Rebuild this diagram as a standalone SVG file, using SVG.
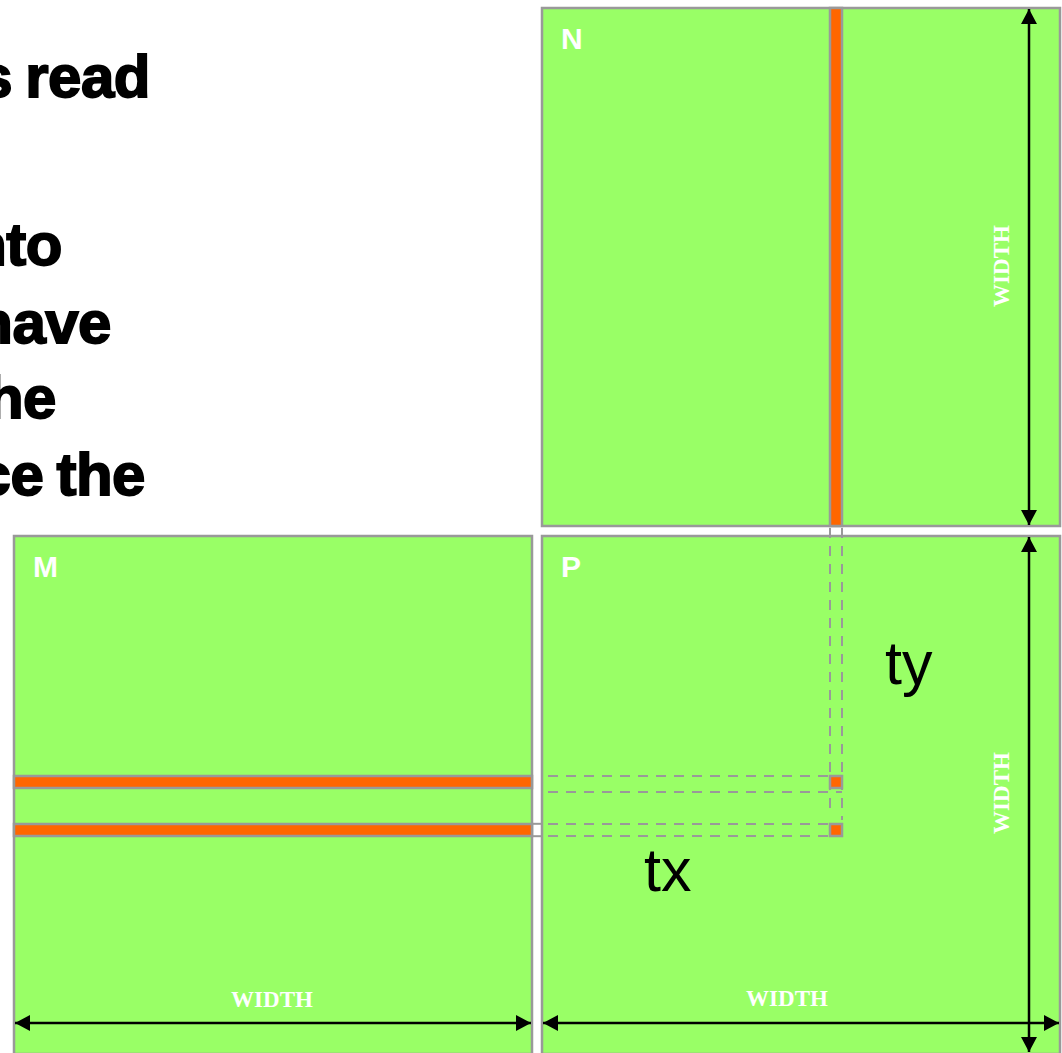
<svg xmlns="http://www.w3.org/2000/svg" width="1062" height="1053" viewBox="0 0 1062 1053">
  <defs>
    <marker id="ah" markerUnits="userSpaceOnUse" markerWidth="16" markerHeight="16" refX="15" refY="8" orient="auto-start-reverse">
      <path d="M0,0 L15,8 L0,16 z" fill="#000"/>
    </marker>
    <style>
      .mat { fill: #99FF66; stroke: #999999; stroke-width: 2.5; }
      .bar { fill: #FF6600; stroke: #999999; stroke-width: 2.5; }
      .lbl { font-family: "Liberation Sans", Arial, sans-serif; font-weight: bold; font-size: 30px; fill: #fff; }
      .wid { font-family: "Liberation Serif", "Times New Roman", serif; font-weight: bold; font-size: 23px; fill: #fff; text-anchor: middle; }
      .body { font-family: "Liberation Sans", Arial, sans-serif; font-weight: bold; font-size: 60px; fill: #000; stroke: #000; stroke-width: 1.8; letter-spacing: -0.5px; word-spacing: -3px; text-anchor: end; }
      .idx { font-family: "Liberation Sans", Arial, sans-serif; font-size: 61px; fill: #000; }
      .dash { fill: none; stroke: #999999; stroke-width: 2; stroke-dasharray: 10 8; }
      .arrow { stroke: #000; stroke-width: 2.5; fill: none; marker-start: url(#ah); marker-end: url(#ah); }
    </style>
  </defs>
  <rect width="1062" height="1053" fill="#fff"/>

  <g id="paragraph">
    <text class="body" x="150" y="97">s read</text>
    <text class="body" x="62" y="265">nto</text>
    <text class="body" x="111" y="343">have</text>
    <text class="body" x="56" y="418">he</text>
    <text class="body" x="145" y="495">ce the</text>
  </g>

  <g id="N">
    <rect class="mat" x="542" y="8" width="518" height="518"/>
    <rect class="bar" x="830" y="8" width="12" height="518"/>
    <text class="lbl" x="561" y="49">N</text>
  </g>

  <g id="M">
    <rect class="mat" x="14" y="536" width="518" height="518"/>
    <rect class="bar" x="14" y="776" width="518" height="12"/>
    <rect class="bar" x="14" y="824" width="518" height="12"/>
    <text class="lbl" x="33" y="577">M</text>
  </g>

  <g id="P">
    <rect class="mat" x="542" y="536" width="518" height="518"/>
    <rect class="bar" x="830" y="776" width="12" height="12"/>
    <rect class="bar" x="830" y="824" width="12" height="12"/>
    <text class="lbl" x="561" y="577">P</text>
  </g>

  <g id="connectors">
    <line x1="830" y1="528" x2="830" y2="812" class="dash"/>
    <line x1="842" y1="528" x2="842" y2="820" class="dash"/>
    <line x1="548" y1="776" x2="829" y2="776" class="dash"/>
    <line x1="548" y1="792" x2="842" y2="792" class="dash"/>
    <line x1="548" y1="824" x2="829" y2="824" class="dash"/>
    <line x1="548" y1="836" x2="829" y2="836" class="dash"/>
    <line x1="532" y1="823.8" x2="542" y2="823.8" stroke="#999" stroke-width="2"/>
    <line x1="532" y1="836.2" x2="542" y2="836.2" stroke="#999" stroke-width="2"/>

    <line class="arrow" x1="1029" y1="9" x2="1029" y2="525"/>
    <line class="arrow" x1="1029" y1="537" x2="1029" y2="1052"/>
    <line class="arrow" x1="15" y1="1023" x2="531" y2="1023"/>
    <line class="arrow" x1="543" y1="1023" x2="1059" y2="1023"/>
  </g>

  <g id="labels">
    <text class="wid" x="1009" y="266" transform="rotate(-90 1009 266)">WIDTH</text>
    <text class="wid" x="1009" y="793" transform="rotate(-90 1009 793)">WIDTH</text>
    <text class="wid" x="272" y="1007">WIDTH</text>
    <text class="wid" x="787" y="1006">WIDTH</text>
    <text class="idx" x="885" y="684">ty</text>
    <text class="idx" x="644" y="891">tx</text>
  </g>
</svg>
